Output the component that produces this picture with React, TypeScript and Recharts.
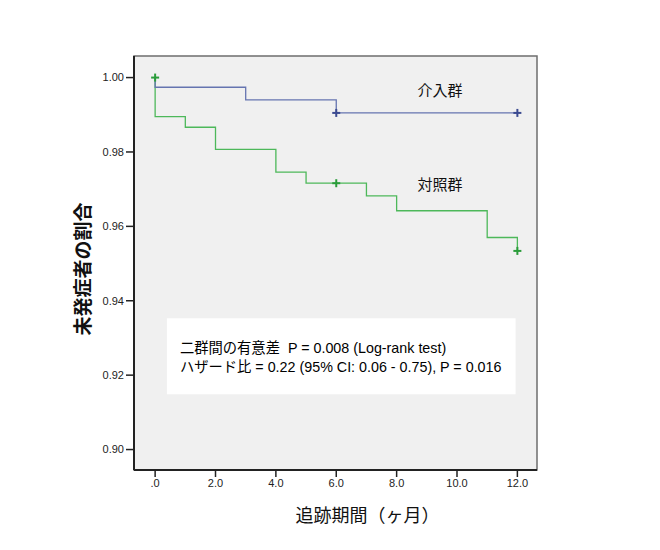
import {
  ComposedChart,
  Line,
  Scatter,
  XAxis,
  YAxis,
  CartesianGrid,
  ReferenceArea,
  ReferenceDot,
  Label,
} from 'recharts';

const X_DOMAIN: [number, number] = [-0.7, 12.65];
const Y_DOMAIN: [number, number] = [0.8945, 1.0058];
const X_TICKS = [0, 2, 4, 6, 8, 10, 12];
const Y_TICKS = [0.9, 0.92, 0.94, 0.96, 0.98, 1.0];

// Kaplan-Meier steps (months, proportion event-free)
const interventionSteps = [
  { t: 0, s: 1.0 },
  { t: 0, s: 0.9974 },
  { t: 3, s: 0.994 },
  { t: 6, s: 0.9905 },
  { t: 12, s: 0.9905 },
];
const controlSteps = [
  { t: 0, s: 1.0 },
  { t: 0, s: 0.9895 },
  { t: 1, s: 0.98665 },
  { t: 2, s: 0.9807 },
  { t: 4, s: 0.9746 },
  { t: 5, s: 0.9716 },
  { t: 7, s: 0.9682 },
  { t: 8, s: 0.9642 },
  { t: 11, s: 0.957 },
  { t: 12, s: 0.9534 },
];
// censored observations
const interventionCensored = [
  { t: 6, s: 0.9905 },
  { t: 12, s: 0.9905 },
];
const controlCensored = [
  { t: 0, s: 1.0 },
  { t: 6, s: 0.9716 },
  { t: 12, s: 0.9534 },
];

const BLUE_LINE = '#6574b0';
const BLUE_MARK = '#3b4a90';
const GREEN_LINE = '#4db85a';
const GREEN_MARK = '#2a9c3a';

const JP_FONT = '"Noto Sans CJK JP", "Liberation Sans", sans-serif';
const MIXED_FONT = '"Liberation Sans", "Noto Sans CJK JP", sans-serif';
const NUM_FONT = '"Liberation Sans", Arial, sans-serif';

const X_TITLE = '追跡期間（ヶ月）';
const Y_TITLE = '未発症者の割合';
const STATS_LINES = [
  '二群間の有意差  P = 0.008 (Log-rank test)',
  'ハザード比 = 0.22 (95% CI: 0.06 - 0.75), P = 0.016',
];
const STATS_BOX = { x1: 0.39, x2: 11.94, y1: 0.91486, y2: 0.93532 };

function crossShape(color: string) {
  return (props: any) => {
    const { cx, cy } = props;
    return (
      <g stroke={color} strokeWidth={2}>
        <line x1={cx - 4} y1={cy} x2={cx + 4} y2={cy} />
        <line x1={cx} y1={cy - 4} x2={cx} y2={cy + 4} />
      </g>
    );
  };
}

function StatsText(props: any) {
  const { viewBox } = props;
  const { x, y } = viewBox;
  return (
    <text
      x={x + 13}
      y={y + 35}
      fontFamily={MIXED_FONT}
      fontSize={14.3}
      fill="#000"
      style={{ whiteSpace: 'pre' }}
    >
      {STATS_LINES.map((line, i) => (
        <tspan key={i} x={x + 13} dy={i === 0 ? 0 : 19}>
          {line}
        </tspan>
      ))}
    </text>
  );
}

function groupLabel(text: string) {
  return (props: any) => {
    const { viewBox } = props;
    return (
      <text
        x={viewBox.cx ?? viewBox.x}
        y={viewBox.cy ?? viewBox.y}
        textAnchor="middle"
        dominantBaseline="central"
        fontFamily={JP_FONT}
        fontSize={15}
        fill="#111"
      >
        {text}
      </text>
    );
  };
}

function XTitle(props: any) {
  const { viewBox } = props;
  return (
    <text
      x={viewBox.x + viewBox.width / 2 + 32}
      y={viewBox.y + viewBox.height + 22}
      textAnchor="middle"
      fontFamily={JP_FONT}
      fontSize={18}
      fill="#111"
    >
      {X_TITLE}
    </text>
  );
}

function YTitle(props: any) {
  const { viewBox } = props;
  const cx = viewBox.x + viewBox.width - 53;
  const cy = viewBox.y + viewBox.height / 2 + 6;
  return (
    <text
      x={cx}
      y={cy}
      transform={`rotate(-90, ${cx}, ${cy})`}
      textAnchor="middle"
      dominantBaseline="central"
      fontFamily={JP_FONT}
      fontSize={19}
      fontWeight="bold"
      fill="#111"
    >
      {Y_TITLE}
    </text>
  );
}

export default function App() {
  return (
    <div style={{ position: 'absolute', left: 0, top: 0, width: 660, height: 550, background: '#fff' }}>
      <ComposedChart width={660} height={550} margin={{ top: 56, right: 123, bottom: 50, left: 74 }}>
        <CartesianGrid fill="#f0f0f0" horizontal={false} vertical={false} />
        <ReferenceArea
          x1={X_DOMAIN[0]}
          x2={X_DOMAIN[1]}
          y1={Y_DOMAIN[0]}
          y2={Y_DOMAIN[1]}
          fill="none"
          stroke="#6e6e6e"
          strokeWidth={1.5}
          fillOpacity={0}
          strokeOpacity={1}
        />
        <XAxis
          type="number"
          dataKey="t"
          domain={X_DOMAIN}
          ticks={X_TICKS}
          allowDataOverflow
          height={30}
          tickSize={7}
          tickMargin={2}
          tickLine={{ stroke: '#222', strokeWidth: 1.5 }}
          axisLine={{ stroke: '#222', strokeWidth: 2 }}
          tick={{ fontSize: 11, fill: '#222', fontFamily: NUM_FONT }}
          tickFormatter={(v: number) => (v === 0 ? '.0' : v.toFixed(1))}
        >
          <Label content={<XTitle />} />
        </XAxis>
        <YAxis
          type="number"
          dataKey="s"
          domain={Y_DOMAIN}
          ticks={Y_TICKS}
          allowDataOverflow
          width={60}
          tickSize={8}
          tickMargin={2}
          tickLine={{ stroke: '#222', strokeWidth: 1.5 }}
          axisLine={{ stroke: '#222', strokeWidth: 2 }}
          tick={{ fontSize: 11, fill: '#222', fontFamily: NUM_FONT }}
          tickFormatter={(v: number) => v.toFixed(2)}
        >
          <Label content={<YTitle />} />
        </YAxis>
        <ReferenceArea
          x1={STATS_BOX.x1}
          x2={STATS_BOX.x2}
          y1={STATS_BOX.y1}
          y2={STATS_BOX.y2}
          fill="#ffffff"
          fillOpacity={1}
          stroke="none"
          label={<StatsText />}
        />
        <Line
          data={controlSteps}
          dataKey="s"
          type="stepAfter"
          stroke={GREEN_LINE}
          strokeWidth={1.3}
          dot={false}
          activeDot={false}
          isAnimationActive={false}
        />
        <Line
          data={interventionSteps}
          dataKey="s"
          type="stepAfter"
          stroke={BLUE_LINE}
          strokeWidth={1.3}
          dot={false}
          activeDot={false}
          isAnimationActive={false}
        />
        <Scatter data={interventionCensored} dataKey="s" shape={crossShape(BLUE_MARK)} isAnimationActive={false} />
        <Scatter data={controlCensored} dataKey="s" shape={crossShape(GREEN_MARK)} isAnimationActive={false} />
        <ReferenceDot x={9.44} y={0.99669} r={0} fill="none" stroke="none" label={groupLabel('介入群')} />
        <ReferenceDot x={9.44} y={0.97139} r={0} fill="none" stroke="none" label={groupLabel('対照群')} />
      </ComposedChart>
    </div>
  );
}
